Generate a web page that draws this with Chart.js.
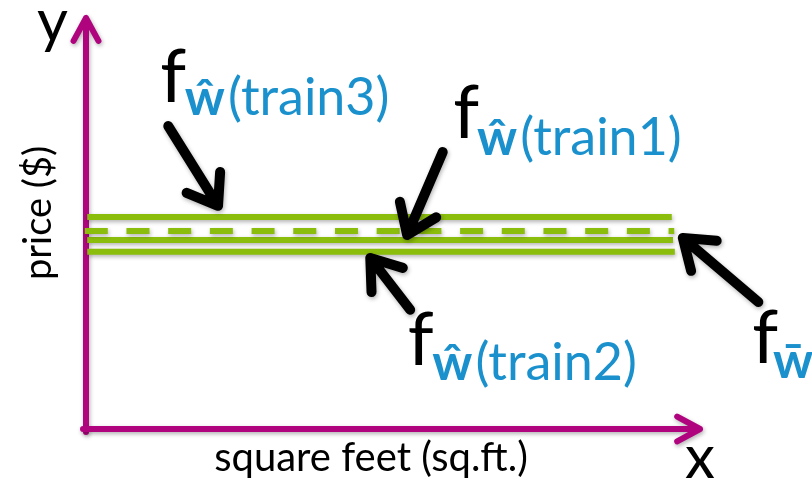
<!DOCTYPE html>
<html>
<head>
<meta charset="utf-8">
<script src="https://cdn.jsdelivr.net/npm/chart.js@4.4.1/dist/chart.umd.min.js"></script>
<style>
    html, body { margin: 0; padding: 0; background: #fff; }
    #wrap { width: 812px; height: 485px; }
</style>
</head>
<body>
<div id="wrap"><canvas id="fit-chart" width="812" height="485"></canvas></div>
<script>
// fitted models (constant price), one per training set + the average one
var fit_names = ['train3', 'wbar', 'train1', 'train2'];
var fit_price = [5.16, 4.82, 4.60, 4.31];
var fit_from = [0.02, -0.02, 0.02, 0.02];
var fit_to = [9.54, 9.58, 9.56, 9.59];

// label parts: black f, blue bold w, blue subscript text
var label_w = ['\u0175', 'w\u0304', '\u0175', '\u0175'];
var label_sub = ['(train3)', '', '(train1)', '(train2)'];

// arrows (tail -> tip) and label anchors, in axis units
var arrow_tail = [[1.34, 7.37], [10.95, 3.09], [5.81, 6.74], [5.28, 2.90]];
var arrow_tip = [[2.15, 5.43], [9.72, 4.65], [5.23, 4.72], [4.63, 4.16]];
var label_f = [[1.21, 7.96], [10.85, 1.61], [5.98, 7.08], [5.24, 1.56]];
var label_s = [[1.61, 7.64], [11.19, 1.24], [6.37, 6.67], [5.64, 1.19]];

var x_title = 'square feet (sq.ft.)';
var y_title = 'price ($)';

var MAGENTA = '#b0047f';
var GREEN = '#8bbd0c';
var BLUE = '#1a91cd';
var FONT = 'Lato, "Open Sans", sans-serif';

function toPx(chart, p) {
    return [chart.scales.x.getPixelForValue(p[0]), chart.scales.y.getPixelForValue(p[1])];
}

function setShadow(ctx) {
    ctx.shadowColor = 'rgba(0,0,0,0.3)';
    ctx.shadowBlur = 4;
    ctx.shadowOffsetX = 1;
    ctx.shadowOffsetY = 2;
}

function arrow(ctx, from, to, width, head, spread, color) {
    var ang = Math.atan2(to[1] - from[1], to[0] - from[0]);
    ctx.strokeStyle = color;
    ctx.lineWidth = width;
    ctx.lineCap = 'round';
    ctx.lineJoin = 'round';
    ctx.beginPath();
    ctx.moveTo(from[0], from[1]);
    ctx.lineTo(to[0], to[1]);
    ctx.moveTo(to[0] - head * Math.cos(ang - spread), to[1] - head * Math.sin(ang - spread));
    ctx.lineTo(to[0], to[1]);
    ctx.lineTo(to[0] - head * Math.cos(ang + spread), to[1] - head * Math.sin(ang + spread));
    ctx.stroke();
}

var diagramPlugin = {
    id: 'diagram',
    beforeDatasetsDraw: function (chart) {
        var ctx = chart.ctx;
        var o = toPx(chart, [0, 0]);
        var xEnd = toPx(chart, [10, 0]);
        var yEnd = toPx(chart, [0, 10]);
        ctx.save();
        setShadow(ctx);
        arrow(ctx, [o[0], o[1] + 3], yEnd, 6, 26, 0.5, MAGENTA);
        arrow(ctx, [o[0] - 3, o[1]], xEnd, 6, 26, 0.5, MAGENTA);
        ctx.restore();

        ctx.save();
        ctx.fillStyle = '#000';
        ctx.font = '60px ' + FONT;
        ctx.textBaseline = 'alphabetic';
        ctx.fillText('y', o[0] - 49, 42);
        ctx.fillText('x', xEnd[0] - 15, 478);
        ctx.font = '40px ' + FONT;
        ctx.textAlign = 'center';
        ctx.fillText(x_title, (o[0] + xEnd[0]) / 2 - 22, 471);
        ctx.font = '38px ' + FONT;
        ctx.translate(o[0] - 47, 213);
        ctx.rotate(-Math.PI / 2);
        ctx.textBaseline = 'middle';
        ctx.fillText(y_title, 0, 0);
        ctx.restore();

        ctx.save();
        setShadow(ctx);
    },
    afterDatasetsDraw: function (chart) {
        var ctx = chart.ctx;
        ctx.restore();
        ctx.save();
        setShadow(ctx);
        for (var i = 0; i < fit_names.length; i++) {
            arrow(ctx, toPx(chart, arrow_tail[i]), toPx(chart, arrow_tip[i]), 10, 34, 0.62, '#000');
        }
        ctx.restore();

        ctx.save();
        ctx.textBaseline = 'alphabetic';
        for (var j = 0; j < fit_names.length; j++) {
            var f = toPx(chart, label_f[j]);
            var s = toPx(chart, label_s[j]);
            ctx.fillStyle = '#000';
            ctx.font = '74px ' + FONT;
            ctx.fillText('f', f[0], f[1]);
            ctx.fillStyle = BLUE;
            ctx.font = 'bold 50px ' + FONT;
            ctx.fillText(label_w[j], s[0], s[1]);
            var ww = ctx.measureText(label_w[j]).width;
            ctx.font = '52px ' + FONT;
            ctx.fillText(label_sub[j], s[0] + ww + 3, s[1]);
        }
        ctx.restore();
    }
};

var fit_datasets = [];
for (var i = 0; i < fit_names.length; i++) {
    fit_datasets.push({
        label: fit_names[i],
        data: [{ x: fit_from[i], y: fit_price[i] }, { x: fit_to[i], y: fit_price[i] }],
        showLine: true,
        borderColor: GREEN,
        borderWidth: 6,
        borderDash: fit_names[i] === 'wbar' ? [23, 18.7] : [],
        borderCapStyle: 'butt',
        pointRadius: 0,
        fill: false
    });
}

var FitChart = new Chart(document.getElementById('fit-chart'), {
    type: 'scatter',
    data: { datasets: fit_datasets },
    plugins: [diagramPlugin],
    options: {
        responsive: false,
        animation: false,
        devicePixelRatio: 1,
        layout: { padding: 0 },
        plugins: {
            legend: { display: false },
            tooltip: { enabled: false }
        },
        scales: {
            x: { type: 'linear', display: false, min: -1.4007, max: 11.824 },
            y: { type: 'linear', display: false, min: -1.3625, max: 10.438 }
        }
    }
});
</script>
</body>
</html>
